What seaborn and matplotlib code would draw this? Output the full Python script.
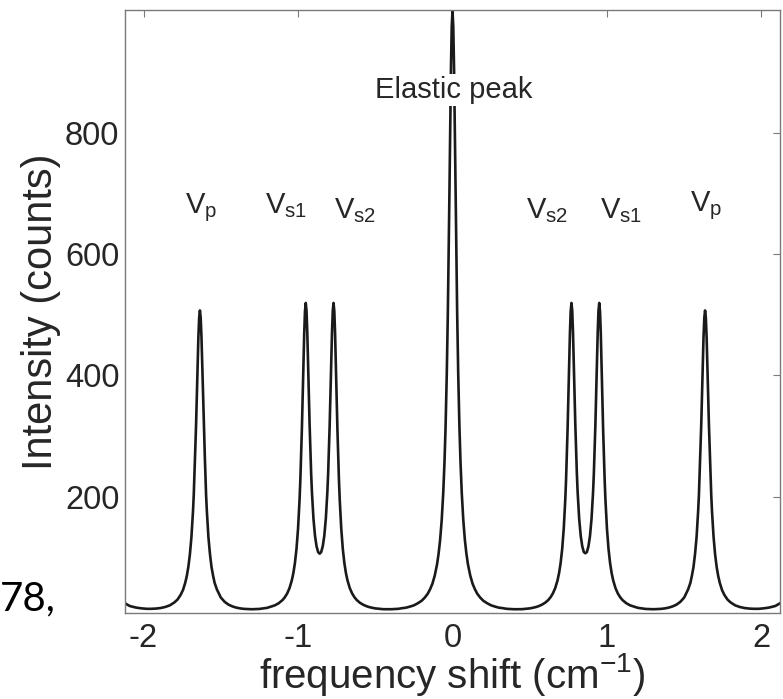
import matplotlib
matplotlib.use("Agg")
import matplotlib.pyplot as plt
import seaborn as sns
import pandas as pd

# ---- data ----
# anti-Stokes side (negative shift) incl. the elastic line maximum at 0
shift_neg = [-2.12, -2.09, -2.05, -2.015, -1.98, -1.95, -1.92, -1.89, -1.86, -1.83,
             -1.80, -1.78, -1.76, -1.745, -1.73, -1.72, -1.71, -1.70, -1.69, -1.68,
             -1.675, -1.667, -1.66, -1.655, -1.65, -1.645, -1.64, -1.635, -1.63, -1.625,
             -1.62, -1.615, -1.61, -1.603, -1.595, -1.59, -1.58, -1.57, -1.56, -1.55,
             -1.54, -1.525, -1.50, -1.475, -1.45, -1.425, -1.40, -1.375, -1.35, -1.30,
             -1.25, -1.20, -1.15, -1.125, -1.10, -1.085, -1.07, -1.055, -1.04, -1.03,
             -1.02, -1.01, -1.00, -0.99, -0.985, -0.975, -0.97, -0.965, -0.96, -0.955,
             -0.95, -0.945, -0.94, -0.935, -0.93, -0.925, -0.915, -0.91, -0.90, -0.89,
             -0.88, -0.87, -0.86, -0.85, -0.84, -0.83, -0.82, -0.81, -0.805, -0.795,
             -0.79, -0.785, -0.78, -0.775, -0.77, -0.765, -0.76, -0.755, -0.75, -0.745,
             -0.735, -0.73, -0.72, -0.71, -0.70, -0.69, -0.68, -0.665, -0.65, -0.635,
             -0.62, -0.60, -0.58, -0.56, -0.54, -0.52, -0.50, -0.45, -0.40, -0.375,
             -0.35, -0.325, -0.30, -0.275, -0.25, -0.225, -0.20, -0.18, -0.16, -0.145,
             -0.13, -0.115, -0.10, -0.09, -0.08, -0.07, -0.06, -0.052, -0.045, -0.037,
             -0.03, -0.025, -0.02, -0.015, -0.01, -0.005, 0.0]
counts_neg = [24.0, 19.6, 17.0, 15.7, 14.9, 14.9, 15.3, 16.2, 17.9, 20.6,
              25.5, 30.2, 37.8, 45.7, 57.9, 69.0, 83.9, 104.4, 133.3, 174.8,
              202.1, 262.9, 317.5, 366.5, 416.9, 462.4, 495.1, 506.7, 494.8, 463.1,
              416.6, 367.2, 317.2, 263.6, 201.8, 175.5, 133.1, 105.2, 83.8, 69.8,
              57.8, 46.8, 33.6, 26.4, 21.8, 18.9, 16.9, 15.6, 14.8, 14.2,
              14.7, 16.5, 20.6, 24.1, 29.4, 34.1, 40.3, 49.1, 62.0, 74.0,
              90.5, 113.4, 146.5, 194.8, 227.0, 311.1, 362.8, 417.2, 467.8, 504.9,
              519.1, 506.4, 470.6, 421.6, 368.7, 318.7, 237.9, 207.6, 163.3, 135.0,
              117.9, 108.5, 105.7, 108.5, 117.9, 135.0, 163.4, 207.6, 238.1, 318.7,
              369.0, 421.6, 470.9, 506.4, 519.1, 504.9, 467.9, 417.2, 362.9, 311.1,
              227.1, 194.8, 146.6, 113.4, 90.5, 74.0, 62.0, 49.1, 40.4, 34.1,
              29.4, 25.0, 21.9, 19.5, 17.8, 16.6, 15.6, 14.3, 14.2, 14.5,
              14.9, 16.0, 16.8, 18.6, 20.6, 24.0, 28.1, 33.2, 39.9, 47.2,
              56.3, 69.6, 88.2, 105.8, 128.9, 160.8, 205.6, 255.6, 313.3, 402.3,
              505.6, 595.8, 697.9, 805.6, 905.6, 975.0, 1000.0]

# Stokes side (positive shift)
shift_pos = [0.005, 0.01, 0.015, 0.02, 0.025, 0.03, 0.037, 0.045, 0.052, 0.06,
             0.07, 0.08, 0.09, 0.10, 0.115, 0.13, 0.145, 0.16, 0.18, 0.20,
             0.225, 0.25, 0.275, 0.30, 0.325, 0.35, 0.375, 0.40, 0.45, 0.50,
             0.52, 0.54, 0.56, 0.58, 0.60, 0.62, 0.635, 0.65, 0.665, 0.68,
             0.69, 0.70, 0.71, 0.72, 0.73, 0.735, 0.745, 0.75, 0.755, 0.76,
             0.765, 0.77, 0.775, 0.78, 0.785, 0.79, 0.795, 0.805, 0.81, 0.82,
             0.83, 0.84, 0.85, 0.86, 0.87, 0.88, 0.89, 0.90, 0.91, 0.915,
             0.925, 0.93, 0.935, 0.94, 0.945, 0.95, 0.955, 0.96, 0.965, 0.97,
             0.975, 0.985, 0.99, 1.00, 1.01, 1.02, 1.03, 1.04, 1.055, 1.07,
             1.085, 1.10, 1.125, 1.15, 1.20, 1.25, 1.30, 1.35, 1.375, 1.40,
             1.425, 1.45, 1.475, 1.50, 1.525, 1.54, 1.55, 1.56, 1.57, 1.58,
             1.59, 1.595, 1.603, 1.61, 1.615, 1.62, 1.625, 1.63, 1.635, 1.64,
             1.645, 1.65, 1.655, 1.66, 1.667, 1.675, 1.68, 1.69, 1.70, 1.71,
             1.72, 1.73, 1.745, 1.76, 1.78, 1.80, 1.83, 1.86, 1.89, 1.92,
             1.95, 1.98, 2.015, 2.05, 2.09, 2.12]
counts_pos = [975.0, 905.6, 805.6, 697.9, 595.8, 505.6, 402.3, 313.3, 255.6, 205.6,
              160.8, 128.9, 105.8, 88.2, 69.6, 56.3, 47.2, 39.9, 33.2, 28.1,
              24.0, 20.6, 18.6, 16.8, 16.0, 14.9, 14.5, 14.2, 14.3, 15.6,
              16.6, 17.8, 19.5, 21.9, 25.0, 29.4, 34.1, 40.4, 49.1, 62.0,
              74.0, 90.5, 113.4, 146.6, 194.8, 227.1, 311.1, 362.9, 417.2, 467.9,
              504.9, 519.1, 506.4, 470.9, 421.6, 369.0, 318.7, 238.1, 207.6, 163.4,
              135.0, 117.9, 108.5, 106.5, 108.5, 117.9, 135.0, 163.3, 207.6, 237.9,
              318.7, 368.7, 421.6, 470.6, 506.4, 519.1, 504.9, 467.8, 417.2, 362.8,
              311.1, 227.0, 194.8, 146.5, 113.4, 90.5, 74.0, 62.0, 49.1, 40.3,
              34.1, 29.4, 24.1, 20.6, 16.5, 14.7, 14.2, 14.8, 15.6, 16.9,
              18.9, 21.8, 26.4, 33.6, 46.8, 57.8, 69.8, 83.8, 105.2, 133.1,
              175.5, 201.8, 263.6, 317.2, 367.2, 416.6, 463.1, 494.8, 506.7, 495.1,
              462.4, 416.9, 366.5, 317.5, 262.9, 202.1, 174.8, 133.3, 104.4, 83.9,
              69.0, 57.9, 45.7, 37.8, 30.2, 25.5, 20.6, 17.9, 16.2, 15.3,
              14.9, 14.9, 15.7, 17.0, 19.6, 24.0]

peak_labels = [r"$V_{p}$", r"$V_{s1}$", r"$V_{s2}$", r"$V_{s2}$", r"$V_{s1}$", r"$V_{p}$"]
x_ticks = [-2, -1, 0, 1, 2]
y_ticks = [200, 400, 600, 800]

# ---- style ----
sns.set_style("white")
plt.rcParams["font.family"] = ["Liberation Sans", "DejaVu Sans"]
plt.rcParams["mathtext.fontset"] = "custom"
plt.rcParams["mathtext.rm"] = "Liberation Sans"
plt.rcParams["mathtext.it"] = "Liberation Sans"
plt.rcParams["mathtext.bf"] = "Liberation Sans"
plt.rcParams["mathtext.default"] = "regular"

TXT = "#262626"
SPINE = "#7a7a7a"

fig = plt.figure(figsize=(7.83, 6.99), dpi=100)
ax = fig.add_axes([125 / 783, 1 - 613 / 699, (780 - 125) / 783, (613 - 10) / 699])

df = pd.DataFrame({"shift": shift_neg + shift_pos, "counts": counts_neg + counts_pos})
sns.lineplot(data=df, x="shift", y="counts", ax=ax, color="#1a1a1a", lw=1.9,
             estimator=None, sort=False)

ax.set_xlim(-2.12, 2.12)
ax.set_ylim(8, 1002)
ax.set_xticks(x_ticks)
ax.set_yticks(y_ticks)
ax.set_xticklabels([str(t) for t in x_ticks])
ax.tick_params(axis="both", direction="in", length=5, width=0.8, color=SPINE,
               labelsize=23.5, labelcolor=TXT, top=True, right=True)
ax.tick_params(axis="x", pad=7)
ax.tick_params(axis="y", pad=4)
for s in ax.spines.values():
    s.set_visible(True)
    s.set_color(SPINE)
    s.set_linewidth(1.0)

ax.set_xlabel(r"frequency shift (cm$^{-1}$)", fontsize=29, color=TXT, labelpad=-2)
ax.set_ylabel("Intensity (counts)", fontsize=30, color=TXT, labelpad=3)

# peak annotations
label_pos = [(-1.625, 667), (-1.08, 667), (-0.63, 659), (0.61, 659), (1.094, 659), (1.64, 671)]
for lab, (lx, ly) in zip(peak_labels, label_pos):
    ax.text(lx, ly, lab, ha="center", va="baseline", fontsize=21, color=TXT)

ax.text(0.01, 857, "Elastic peak", ha="center", va="baseline", fontsize=21, color=TXT,
        bbox=dict(facecolor="white", edgecolor="none", pad=1.5), zorder=5)

fig.text(0.0, 1 - 610 / 699, "78,", fontsize=29, family=["Lato", "DejaVu Sans"],
         color="black", ha="left", va="baseline")

fig.savefig("out.png", dpi=100)
